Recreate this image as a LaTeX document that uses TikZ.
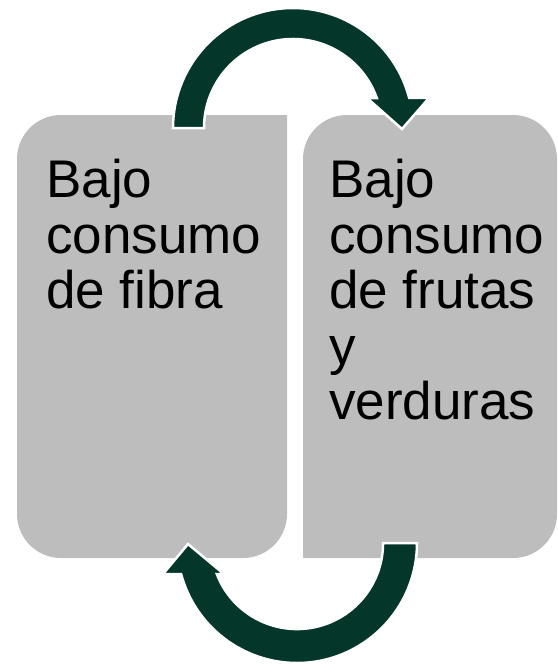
\documentclass[tikz,border=0pt]{standalone}
\usepackage{fontspec}
\setmainfont{Liberation Sans}
\usepackage{tikz}
\usetikzlibrary{positioning}
\definecolor{boxgray}{RGB}{188,189,188}
\definecolor{arrowgreen}{RGB}{4,55,42}

\begin{document}
\begin{tikzpicture}[x=1pt,y=-1pt,
    txt/.style={anchor=north west,align=left,inner sep=0pt,font=\fontsize{53}{55.5}\selectfont},
    blockarrow/.style={fill=arrowgreen,draw=white,line width=2.5pt,line join=miter}]
                \useasboundingbox (0,0) rectangle (557,664);
                \fill[boxgray,rounded corners=44pt] (287,115) -- (17,115) -- (17,558) -- (287,558) [sharp corners] -- cycle;
                \fill[boxgray,rounded corners=44pt] (303,558) -- (557,558) -- (557,115) -- (303,115) [sharp corners] -- cycle;
                \node[txt] (fibra) at (46,159) {Bajo\\consumo\\de fibra};
                \node[txt] (frutas) at (329,159) {Bajo\\consumo\\de frutas\\y\\verduras};
                \coordinate (top) at (293,128);
                \coordinate (bot) at (297,543);
                \draw[blockarrow] ([xshift=-120pt]top) arc[start angle=180,end angle=345.5,radius=120]
                    -- (429,98) -- (402,129) -- (367,98) -- ([xshift=83.8pt,yshift=30pt]top)
                    arc[start angle=340.3,end angle=180,radius=89] -- cycle;
                \draw[blockarrow] ([xshift=120pt]bot) arc[start angle=0,end angle=165,radius=120]
                    -- (163,574) -- (188,544) -- (224,574) -- ([xshift=-80.2pt,yshift=-31pt]bot)
                    arc[start angle=158.9,end angle=0,radius=86] -- cycle;
\end{tikzpicture}
\end{document}
